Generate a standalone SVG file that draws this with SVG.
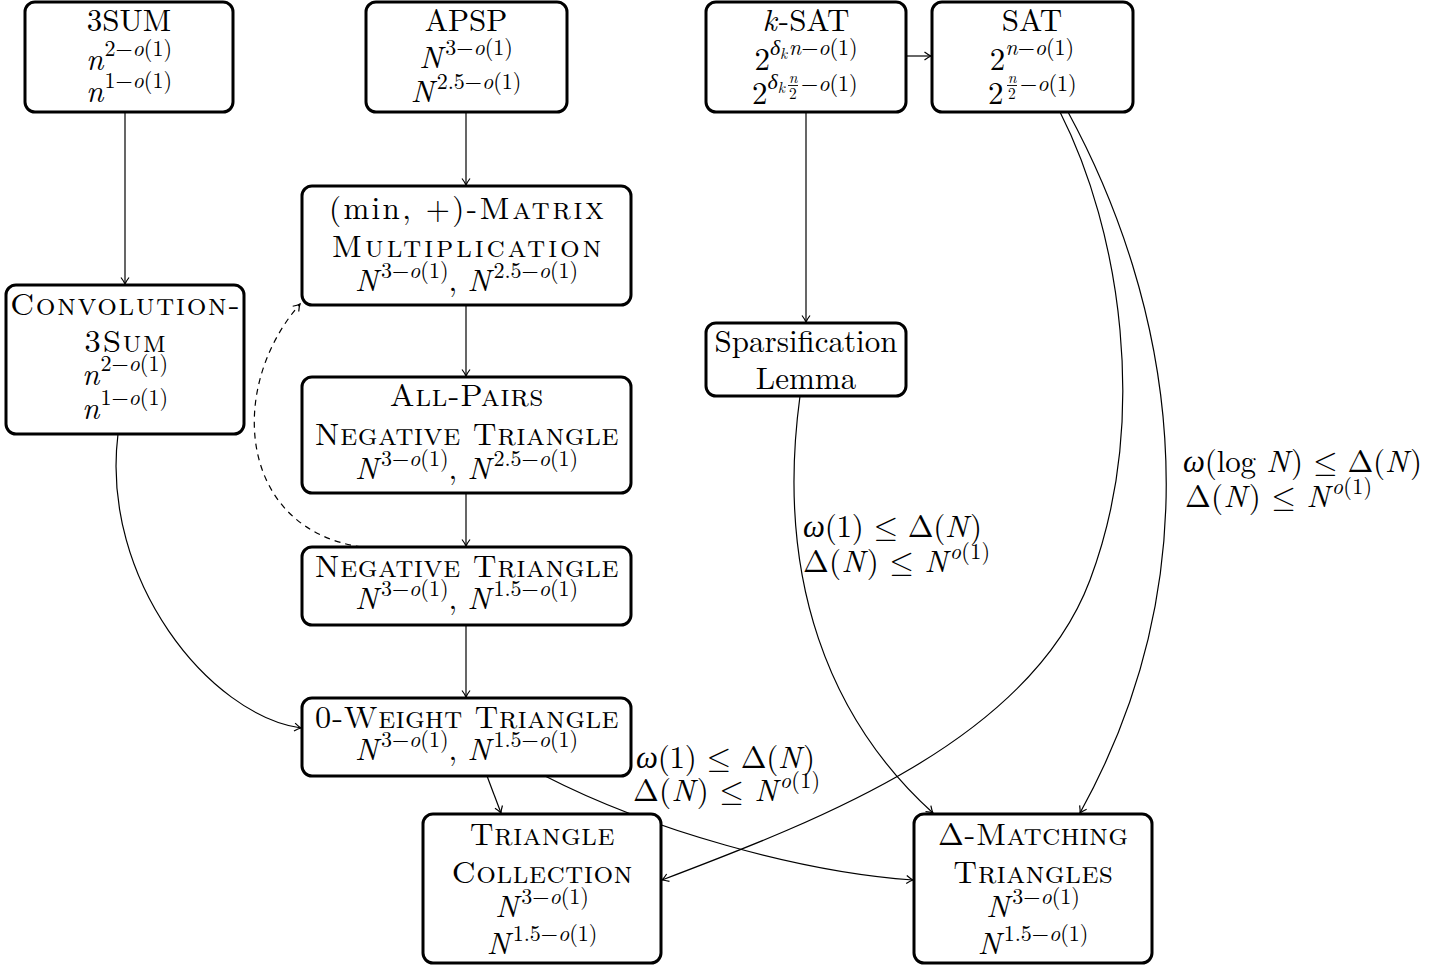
<svg xmlns="http://www.w3.org/2000/svg" width="1445" height="966" viewBox="0 0 1445 966" font-family="Latin Modern Roman, serif">
<style>
.box{fill:#fff;stroke:#000;stroke-width:3}
.t{font-size:31px;text-anchor:middle;fill:#000}
.l{font-size:31px;text-anchor:start;fill:#000}
.i{font-style:italic}
.s{font-size:22px}
.ss{font-size:15.5px}
.st{text-anchor:start}
.edge{fill:none;stroke:#000;stroke-width:1.2;marker-end:url(#arr)}
.dash{stroke-dasharray:6 5}
</style>
<defs>
<marker id="arr" viewBox="-8 -5 10 10" refX="0" refY="0" markerWidth="10" markerHeight="10" markerUnits="userSpaceOnUse" orient="auto">
<path d="M -6.5 -4 Q -2.5 -1 0 0 Q -2.5 1 -6.5 4" fill="none" stroke="#000" stroke-width="1.2"/>
</marker>
</defs>
<rect width="1445" height="966" fill="#fff"/>
<g id="connectors">
<path class="edge" d="M 125 112 L 125 284"/>
<path class="edge" d="M 466 112 L 466 185"/>
<path class="edge" d="M 466 305 L 466 376"/>
<path class="edge" d="M 466 493 L 466 546"/>
<path class="edge" d="M 466 625 L 466 697"/>
<path class="edge dash" d="M 362 547 C 240 530, 225 390, 300 304"/>
<path class="edge" d="M 118 434 C 100 580, 210 715, 301 728"/>
<path class="edge" d="M 906 56 L 931 56"/>
<path class="edge" d="M 806 112 L 806 322"/>
<path class="edge" d="M 800 396 C 775 580, 830 720, 933 813"/>
<path class="edge" d="M 1060 112 C 1120 230, 1150 420, 1090 580 S 820 820, 662 880"/>
<path class="edge" d="M 1068 112 C 1170 300, 1220 560, 1080 813"/>
<path class="edge" d="M 487 776 L 501 813"/>
<path class="edge" d="M 545 776 C 650 830, 800 872, 913 880"/>
</g>
<g id="labels">
<text class="l" x="803" y="537" textLength="179" lengthAdjust="spacing"><tspan class="i">ω</tspan>(1) <tspan font-family="Latin Modern Math">≤</tspan> Δ(<tspan class="i">N</tspan><tspan dx="2">)</tspan></text>
<text class="l" x="803" y="572" textLength="187" lengthAdjust="spacing">Δ(<tspan class="i">N</tspan><tspan dx="2">)</tspan> <tspan font-family="Latin Modern Math">≤</tspan> <tspan class="i">N</tspan><tspan class="s" dy="-13" dx="2"><tspan class="i">o</tspan>(1)</tspan></text>
<text class="l" x="1183" y="472" textLength="239" lengthAdjust="spacing"><tspan class="i">ω</tspan>(log <tspan class="i">N</tspan><tspan dx="2">)</tspan> <tspan font-family="Latin Modern Math">≤</tspan> Δ(<tspan class="i">N</tspan><tspan dx="2">)</tspan></text>
<text class="l" x="1185" y="507" textLength="187" lengthAdjust="spacing">Δ(<tspan class="i">N</tspan><tspan dx="2">)</tspan> <tspan font-family="Latin Modern Math">≤</tspan> <tspan class="i">N</tspan><tspan class="s" dy="-13" dx="2"><tspan class="i">o</tspan>(1)</tspan></text>
<text class="l" x="636" y="768" textLength="179" lengthAdjust="spacing"><tspan class="i">ω</tspan>(1) <tspan font-family="Latin Modern Math">≤</tspan> Δ(<tspan class="i">N</tspan><tspan dx="2">)</tspan></text>
<text class="l" x="633" y="801" textLength="187" lengthAdjust="spacing">Δ(<tspan class="i">N</tspan><tspan dx="2">)</tspan> <tspan font-family="Latin Modern Math">≤</tspan> <tspan class="i">N</tspan><tspan class="s" dy="-13" dx="2"><tspan class="i">o</tspan>(1)</tspan></text>
</g>
<g id="n3sum">
<rect class="box" x="25" y="2" width="208" height="110" rx="10"/>
<text class="t" x="129" y="31">3SUM</text>
<text class="t" x="129" y="70"><tspan class="i">n</tspan><tspan class="s" dy="-14" dx="1">2−<tspan class="i">o</tspan>(1)</tspan></text>
<text class="t" x="129" y="102"><tspan class="i">n</tspan><tspan class="s" dy="-14" dx="1">1−<tspan class="i">o</tspan>(1)</tspan></text>
</g>
<g id="napsp">
<rect class="box" x="366" y="2" width="201" height="110" rx="10"/>
<text class="t" x="466" y="31">APSP</text>
<text class="t" x="466" y="68"><tspan class="i">N</tspan><tspan class="s" dy="-13" dx="3">3−<tspan class="i">o</tspan>(1)</tspan></text>
<text class="t" x="466" y="102"><tspan class="i">N</tspan><tspan class="s" dy="-13" dx="3">2.5−<tspan class="i">o</tspan>(1)</tspan></text>
</g>
<g id="nksat">
<rect class="box" x="706" y="2" width="200" height="110" rx="10"/>
<text class="t" x="806" y="31"><tspan class="i">k</tspan><tspan dx="2">-SAT</tspan></text>
<text class="t" x="806" y="70">2<tspan class="s" dy="-15"><tspan class="i">δ</tspan><tspan class="ss i" dy="4">k</tspan><tspan class="i" dy="-4" dx="1.5">n</tspan>−<tspan class="i">o</tspan>(1)</tspan></text>
<text class="t st" x="752" y="104" style="text-anchor:start">2<tspan class="s" dy="-15"><tspan class="i">δ</tspan><tspan class="ss i" dy="4">k</tspan></tspan></text>
<text class="t ss i" x="793" y="82.5">n</text>
<line x1="788" y1="85.5" x2="798" y2="85.5" stroke="#000" stroke-width="0.9"/>
<text class="t ss" x="793" y="98.5">2</text>
<text class="t s st" x="801" y="91" style="text-anchor:start">−<tspan class="i">o</tspan>(1)</text>
</g>
<g id="nsat">
<rect class="box" x="932" y="2" width="201" height="110" rx="10"/>
<text class="t" x="1032" y="31">SAT</text>
<text class="t" x="1032" y="70">2<tspan class="s" dy="-15"><tspan class="i">n</tspan>−<tspan class="i">o</tspan>(1)</tspan></text>
<text class="t st" x="988" y="104" style="text-anchor:start">2</text>
<text class="t ss i" x="1012" y="82.5">n</text>
<line x1="1007" y1="85.5" x2="1017" y2="85.5" stroke="#000" stroke-width="0.9"/>
<text class="t ss" x="1012" y="98.5">2</text>
<text class="t s st" x="1020" y="91" style="text-anchor:start">−<tspan class="i">o</tspan>(1)</text>
</g>
<g id="nminplus">
<rect class="box" x="302" y="186" width="329" height="119" rx="10"/>
<text class="t" x="466.5" y="219" textLength="275" lengthAdjust="spacing">(min, +)-<tspan font-family="Latin Modern Roman Caps, Latin Modern Roman, serif">Matrix</tspan></text>
<text class="t" x="466.5" y="257" textLength="270" lengthAdjust="spacing" font-family="Latin Modern Roman Caps, Latin Modern Roman, serif">Multiplication</text>
<text class="t" x="466.5" y="291"><tspan class="i">N</tspan><tspan class="s" dy="-13" dx="3">3−<tspan class="i">o</tspan>(1)</tspan><tspan dy="13">, </tspan><tspan class="i">N</tspan><tspan class="s" dy="-13" dx="3">2.5−<tspan class="i">o</tspan>(1)</tspan></text>
</g>
<g id="nconv">
<rect class="box" x="6" y="285" width="238" height="149" rx="10"/>
<text class="t" x="125" y="315" textLength="230" lengthAdjust="spacing" font-family="Latin Modern Roman Caps, Latin Modern Roman, serif">Convolution-</text>
<text class="t" x="125" y="352" textLength="82" lengthAdjust="spacing" font-family="Latin Modern Roman Caps, Latin Modern Roman, serif">3Sum</text>
<text class="t" x="125" y="385"><tspan class="i">n</tspan><tspan class="s" dy="-14" dx="1">2−<tspan class="i">o</tspan>(1)</tspan></text>
<text class="t" x="125" y="419"><tspan class="i">n</tspan><tspan class="s" dy="-14" dx="1">1−<tspan class="i">o</tspan>(1)</tspan></text>
</g>
<g id="nspars">
<rect class="box" x="706" y="323" width="200" height="73" rx="10"/>
<text class="t" x="806" y="352">Sparsification</text>
<text class="t" x="806" y="389">Lemma</text>
</g>
<g id="napnt">
<rect class="box" x="302" y="377" width="329" height="116" rx="10"/>
<text class="t" x="466.5" y="406" textLength="154" lengthAdjust="spacing" font-family="Latin Modern Roman Caps, Latin Modern Roman, serif">All-Pairs</text>
<text class="t" x="466.5" y="445" textLength="304" lengthAdjust="spacing" font-family="Latin Modern Roman Caps, Latin Modern Roman, serif">Negative Triangle</text>
<text class="t" x="466.5" y="479"><tspan class="i">N</tspan><tspan class="s" dy="-13" dx="3">3−<tspan class="i">o</tspan>(1)</tspan><tspan dy="13">, </tspan><tspan class="i">N</tspan><tspan class="s" dy="-13" dx="3">2.5−<tspan class="i">o</tspan>(1)</tspan></text>
</g>
<g id="nnegtri">
<rect class="box" x="302" y="547" width="329" height="78" rx="10"/>
<text class="t" x="466.5" y="577" textLength="304" lengthAdjust="spacing" font-family="Latin Modern Roman Caps, Latin Modern Roman, serif">Negative Triangle</text>
<text class="t" x="466.5" y="609"><tspan class="i">N</tspan><tspan class="s" dy="-13" dx="3">3−<tspan class="i">o</tspan>(1)</tspan><tspan dy="13">, </tspan><tspan class="i">N</tspan><tspan class="s" dy="-13" dx="3">1.5−<tspan class="i">o</tspan>(1)</tspan></text>
</g>
<g id="nzerow">
<rect class="box" x="302" y="698" width="329" height="78" rx="10"/>
<text class="t" x="466.5" y="728" textLength="304" lengthAdjust="spacing" font-family="Latin Modern Roman Caps, Latin Modern Roman, serif">0-Weight Triangle</text>
<text class="t" x="466.5" y="760"><tspan class="i">N</tspan><tspan class="s" dy="-13" dx="3">3−<tspan class="i">o</tspan>(1)</tspan><tspan dy="13">, </tspan><tspan class="i">N</tspan><tspan class="s" dy="-13" dx="3">1.5−<tspan class="i">o</tspan>(1)</tspan></text>
</g>
<g id="ntricoll">
<rect class="box" x="423" y="814" width="238" height="149" rx="10"/>
<text class="t" x="542" y="845" textLength="145" lengthAdjust="spacing" font-family="Latin Modern Roman Caps, Latin Modern Roman, serif">Triangle</text>
<text class="t" x="542" y="883" textLength="181" lengthAdjust="spacing" font-family="Latin Modern Roman Caps, Latin Modern Roman, serif">Collection</text>
<text class="t" x="542" y="917"><tspan class="i">N</tspan><tspan class="s" dy="-13" dx="3">3−<tspan class="i">o</tspan>(1)</tspan></text>
<text class="t" x="542" y="954"><tspan class="i">N</tspan><tspan class="s" dy="-13" dx="3">1.5−<tspan class="i">o</tspan>(1)</tspan></text>
</g>
<g id="ndmatch">
<rect class="box" x="914" y="814" width="238" height="149" rx="10"/>
<text class="t" x="1033" y="845" textLength="190" lengthAdjust="spacing"><tspan>Δ</tspan><tspan font-family="Latin Modern Roman Caps, Latin Modern Roman, serif">-Matching</tspan></text>
<text class="t" x="1033" y="883" textLength="160" lengthAdjust="spacing" font-family="Latin Modern Roman Caps, Latin Modern Roman, serif">Triangles</text>
<text class="t" x="1033" y="917"><tspan class="i">N</tspan><tspan class="s" dy="-13" dx="3">3−<tspan class="i">o</tspan>(1)</tspan></text>
<text class="t" x="1033" y="954"><tspan class="i">N</tspan><tspan class="s" dy="-13" dx="3">1.5−<tspan class="i">o</tspan>(1)</tspan></text>
</g>
</svg>
